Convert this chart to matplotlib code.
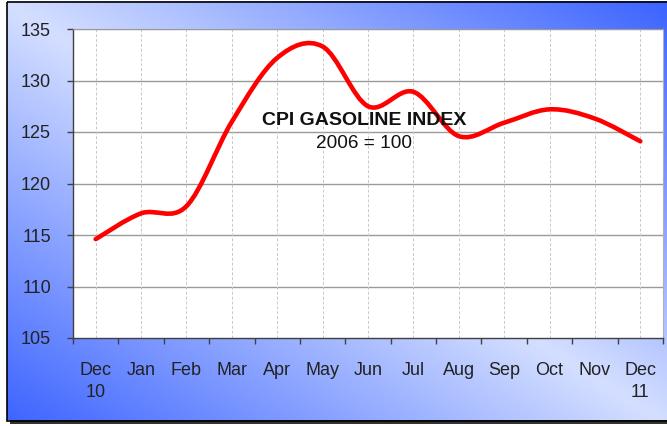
import numpy as np
import matplotlib
matplotlib.use("Agg")
import matplotlib.pyplot as plt
from matplotlib.path import Path
from matplotlib.patches import PathPatch, Rectangle

plt.rcParams['font.family'] = ['Liberation Sans', 'DejaVu Sans']

months = ["Dec\n10", "Jan", "Feb", "Mar", "Apr", "May", "Jun", "Jul", "Aug",
          "Sep", "Oct", "Nov", "Dec\n11"]
cpi_gasoline = [114.6, 117.1, 117.8, 126.0, 132.2, 133.3, 127.5, 128.9,
                124.6, 125.9, 127.2, 126.3, 124.1]
y_ticks = [105, 110, 115, 120, 125, 130, 135]
title_text = "CPI GASOLINE INDEX"
subtitle_text = "2006 = 100"

W, H = 667, 426
fig = plt.figure(figsize=(W / 100, H / 100), dpi=100)
fig.patch.set_facecolor("white")

# background with diagonal gradient and frame
bg = fig.add_axes([0, 0, 1, 1], zorder=-10)
bg.set_xlim(0, W)
bg.set_ylim(H, 0)
bg.axis("off")
fx0, fy0, fx1, fy1 = 6.5, 1.5, W + 5, 420.5
xs = np.linspace(fx0, fx1, 400)
ys = np.linspace(fy0, fy1, 300)
X, Y = np.meshgrid(xs, ys)
t = (X / W + (1 - Y / H)) / 2
c = np.clip(np.abs(2 * t - 1), 0, 1)[..., None]
light = np.array([212, 223, 255]) / 255
dark = np.array([58, 98, 255]) / 255
img = light + (dark - light) * c
bg.add_patch(Rectangle((fx0 + 3, fy0 + 3), fx1 - fx0, fy1 - fy0, facecolor="#333333",
                       edgecolor="none", zorder=0))
bg.imshow(img, extent=(fx0, fx1, fy1, fy0), aspect="auto", zorder=1, interpolation="bilinear")
bg.add_patch(Rectangle((fx0, fy0), fx1 - fx0, fy1 - fy0, facecolor="none",
                       edgecolor="black", lw=1.2, zorder=2))

# plot area
L, R, T, B = 73, 663, 29, 338
ax = fig.add_axes([L / W, (H - B) / H, (R - L) / W, (B - T) / H])
ax.set_facecolor("white")
n = len(cpi_gasoline)
xi = np.arange(n)
ax.set_xlim(-0.5, n - 0.5)
ax.set_ylim(y_ticks[0], y_ticks[-1])

# horizontal gridlines
for yv in y_ticks[1:]:
    ax.axhline(yv, color="#9a9a9a", lw=1.0, zorder=1)
# vertical dashed gridlines at categories
for xv in xi:
    ax.axvline(xv, color="#c8c8c8", lw=0.7, ls=(0, (3, 2)), zorder=1)

# smoothed line (Excel-style Bezier)
pts = list(zip(xi.astype(float), cpi_gasoline))
verts = [pts[0]]
codes = [Path.MOVETO]
for i in range(n - 1):
    p0 = np.array(pts[max(i - 1, 0)])
    p1 = np.array(pts[i])
    p2 = np.array(pts[i + 1])
    p3 = np.array(pts[min(i + 2, n - 1)])
    c1 = p1 + (p2 - p0) / 6
    c2 = p2 - (p3 - p1) / 6
    verts += [tuple(c1), tuple(c2), tuple(p2)]
    codes += [Path.CURVE4] * 3
ax.add_patch(PathPatch(Path(verts, codes), facecolor="none", edgecolor="#ff0000",
                       lw=3.3, capstyle="round", joinstyle="round", zorder=3))

# ticks
ax.set_yticks(y_ticks)
ax.set_yticklabels([str(v) for v in y_ticks])
ax.tick_params(axis="y", direction="out", length=4.3, width=1, color="#404040",
               labelsize=13, pad=11.5, labelcolor="#222222")
ax.set_xticks(np.arange(-0.5, n, 1.0))
ax.set_xticklabels([])
ax.set_xticks(xi, minor=True)
ax.set_xticklabels(months, minor=True)
ax.tick_params(axis="x", which="major", direction="out", length=4.3, width=1, color="#404040")
ax.tick_params(axis="x", which="minor", length=0, labelsize=13, pad=17, labelcolor="#222222")
for lab in ax.get_xticklabels(minor=True):
    lab.set_linespacing(1.4)

for side in ["left", "bottom"]:
    ax.spines[side].set_color("#404040")
    ax.spines[side].set_linewidth(1.0)
ax.spines["top"].set_color("#9a9a9a")
ax.spines["right"].set_color("#b0b0b0")

ax.text(5.91, 126.1, title_text, ha="center", va="center", fontsize=14,
        fontweight="bold", color="#111111", zorder=4)
ax.text(5.91, 123.9, subtitle_text, ha="center", va="center", fontsize=13.7,
        color="#111111", zorder=4)

fig.savefig("out.png", dpi=100)
